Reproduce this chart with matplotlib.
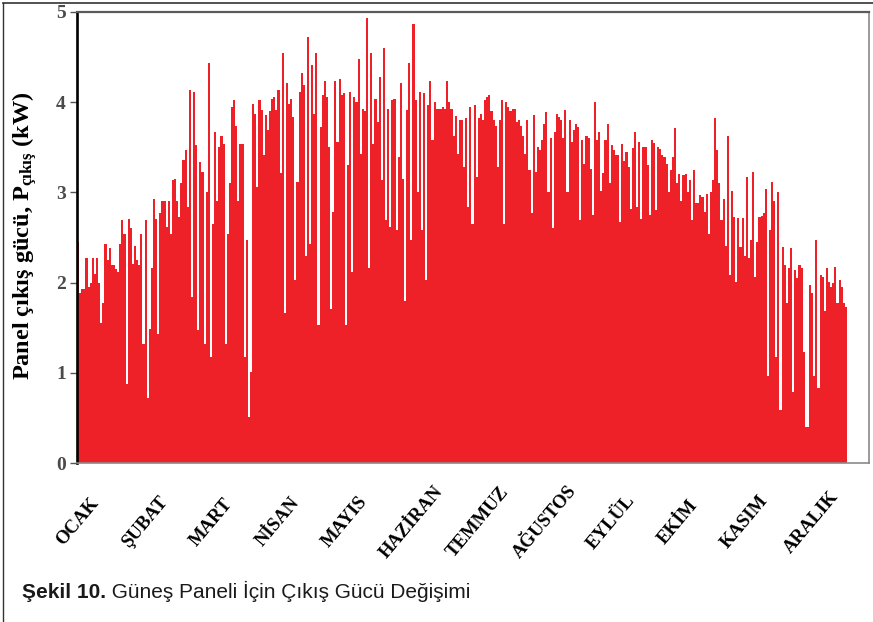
import numpy as np
import matplotlib
matplotlib.use("Agg")
import matplotlib.pyplot as plt
from matplotlib.transforms import blended_transform_factory
from matplotlib.lines import Line2D

# ---------------- data (daily peak panel output, kW) ----------------
months = ["OCAK", "ŞUBAT", "MART", "NİSAN", "MAYIS", "HAZİRAN",
          "TEMMUZ", "AĞUSTOS", "EYLÜL", "EKİM", "KASIM", "ARALIK"]

jan = [2.45, 1.88, 1.93, 1.93, 2.27, 1.95, 2.0, 2.27, 2.1, 2.27,
       2.0, 1.55, 1.77, 2.43, 2.25, 2.38, 2.2, 2.2, 2.15, 2.12,
       2.43, 2.69, 2.54, 0.88, 2.71, 2.6, 2.21, 2.41, 2.25, 2.2,
       2.54]
feb = [1.32, 2.69, 0.72, 1.49, 2.16, 2.93, 2.71, 1.43, 2.77,
       2.91, 2.9, 2.62, 2.9, 2.54, 3.14, 3.15, 2.9, 2.73, 3.1,
       3.36, 3.47, 2.84, 4.13, 1.84, 4.11, 3.52, 1.47, 3.34]
mar = [3.23, 1.32, 3.0, 4.43, 1.18, 2.65, 3.67, 2.91, 3.5, 3.63,
       3.54, 1.32, 2.54, 3.1, 3.95, 4.02, 3.74, 2.91, 3.54, 3.54,
       1.18, 2.47, 0.51, 1.01, 3.98, 3.87, 3.06, 4.02, 3.91, 3.41,
       3.86]
apr = [3.69, 3.9, 4.04, 4.06, 3.91, 4.13, 3.21, 4.54, 1.66, 4.21,
       3.98, 4.04, 3.84, 2.03, 3.12, 4.11, 4.32, 4.19, 2.3, 4.72,
       2.43, 4.41, 3.87, 4.54, 1.53, 3.73, 4.08, 4.24, 4.06, 3.5]
may = [1.71, 2.78, 4.24, 3.56, 4.26, 4.08, 4.1, 1.53, 3.3, 4.11,
       2.12, 4.06, 4.0, 4.48, 3.43, 3.93, 3.9, 4.93, 2.16, 4.54,
       3.54, 4.04, 3.78, 4.28, 3.14, 4.6, 2.69, 3.93, 2.62, 4.02,
       4.04]
jun = [2.58, 3.39, 4.21, 3.15, 1.8, 3.91, 4.43, 2.47, 4.87, 4.02,
       3.0, 4.11, 2.58, 4.1, 2.03, 3.97, 4.23, 3.58, 4.0, 3.93,
       3.92, 3.93, 3.95, 3.92, 4.23, 4.0, 3.92, 3.62, 3.85, 3.43]
jul = [3.8, 3.8, 3.28, 3.82, 2.84, 3.95, 2.65, 3.97, 3.17, 3.82,
       3.87, 3.8, 4.02, 4.06, 4.08, 3.9, 3.8, 3.74, 3.28, 3.8,
       4.02, 2.65, 4.0, 3.95, 3.9, 3.92, 3.92, 3.78, 3.8, 3.74,
       3.63]
aug = [3.43, 3.8, 3.25, 2.77, 3.86, 3.23, 3.5, 3.47, 3.58, 3.76,
       3.89, 3.0, 3.6, 2.6, 3.67, 3.87, 3.84, 3.8, 3.6, 3.91,
       3.0, 3.8, 3.56, 3.69, 3.76, 3.72, 2.69, 3.58, 3.32, 3.63,
       3.6]
sep = [3.26, 2.75, 4.0, 3.58, 3.67, 3.02, 3.21, 3.58, 3.76, 3.1,
       3.52, 3.47, 3.42, 3.41, 2.67, 3.54, 3.35, 3.45, 3.28, 2.82,
       3.49, 3.67, 2.84, 3.56, 2.71, 3.5, 3.5, 3.3, 2.75, 3.58]
oct_ = [3.55, 2.8, 3.5, 3.48, 3.42, 3.39, 3.32, 3.0, 3.25, 3.39,
        3.71, 3.1, 3.2, 2.91, 3.19, 3.2, 3.0, 3.14, 2.69, 3.25,
        2.88, 2.88, 2.97, 2.95, 2.78, 2.98, 2.54, 3.0, 3.14, 3.82,
        3.47]
nov = [3.1, 2.69, 2.93, 2.41, 3.62, 2.08, 3.02, 2.73, 2.01, 2.72,
       2.4, 2.72, 2.29, 3.17, 2.27, 2.47, 3.23, 2.06, 2.45, 2.73,
       2.74, 2.77, 3.04, 0.97, 2.58, 3.12, 2.91, 1.18, 3.0, 0.59]
dec = [2.4, 2.19, 1.77, 2.16, 2.38, 0.79, 2.14, 2.05, 2.19, 2.16,
       1.23, 0.4, 0.4, 1.97, 1.88, 0.97, 2.47, 0.83, 2.08, 2.06,
       1.68, 2.16, 2.01, 1.95, 2.0, 2.17, 1.77, 2.03, 1.95, 1.77,
       1.73]

y_ticks = [0, 1, 2, 3, 4, 5]

daily_peak = np.concatenate([jan, feb, mar, apr, may, jun,
                             jul, aug, sep, oct_, nov, dec])
days = np.arange(len(daily_peak))

# ---------------- style ----------------
RED = "#EE2028"
SERIF = ["Liberation Serif", "DejaVu Serif"]
SANS = ["Liberation Sans", "DejaVu Sans"]
plt.rcParams["mathtext.fontset"] = "custom"
plt.rcParams["mathtext.rm"] = "Liberation Serif:bold"
plt.rcParams["mathtext.bf"] = "Liberation Serif:bold"
plt.rcParams["mathtext.it"] = "Liberation Serif:bold"

W, H = 873, 622
fig = plt.figure(figsize=(W / 100, H / 100), dpi=100)
fig.patch.set_facecolor("white")
ax = fig.add_axes([77 / W, (H - 463) / H, 792 / W, 451 / H])

ax.bar(days + 0.5, daily_peak, width=1.0, color=RED, linewidth=0)

ax.set_xlim(0, 365 * 792 / 770)
ax.set_ylim(0, 5)
ax.set_xticks([])
ax.set_yticks(y_ticks)
ax.set_yticklabels([str(v) for v in y_ticks], fontfamily=SERIF,
                   fontweight="bold", fontsize=14, color="#4a4a4a")
ax.tick_params(axis="y", direction="out", length=5, width=1,
               color="#555555", pad=3)

ax.spines["left"].set_color("black")
ax.spines["left"].set_linewidth(1.9)
ax.spines["top"].set_color("#5a5a5a")
ax.spines["top"].set_linewidth(1.6)
ax.spines["right"].set_color("#8a8a8a")
ax.spines["right"].set_linewidth(1.2)
ax.spines["bottom"].set_color("#8a8a8a")
ax.spines["bottom"].set_linewidth(1.2)

# month labels
trans = blended_transform_factory(ax.transData, ax.transAxes)
for i, m in enumerate(months):
    ax.text(0.5 + 31.6 * i, -0.131, m, transform=trans, rotation=50,
            ha="center", va="center", fontfamily=SERIF, fontweight="bold",
            fontsize=13.5, color="black", clip_on=False)

# y label
fig.text(25 / W, 1 - 236 / H, "Panel çıkış gücü, P$_{\\mathrm{çıkış}}$ (kW)",
         rotation=90, ha="center", va="center", fontfamily=SERIF,
         fontweight="bold", fontsize=17.5, color="black")

# caption
cap_y = (H - 598) / H
t1 = fig.text(22 / W, cap_y, "Şekil 10.", fontfamily=SANS, fontweight="bold",
              fontsize=15, va="baseline", ha="left", color="#1a1a1a")
fig.canvas.draw()
bb = t1.get_window_extent(renderer=fig.canvas.get_renderer())
fig.text(bb.x1 / W, cap_y, " Güneş Paneli İçin Çıkış Gücü Değişimi",
         fontfamily=SANS, fontsize=15, va="baseline", ha="left",
         color="#1a1a1a")

# outer frame lines (top and left)
fig.add_artist(Line2D([3.5 / W, 1], [1 - 2.5 / H, 1 - 2.5 / H],
                      transform=fig.transFigure, color="#333333", lw=1.2))
fig.add_artist(Line2D([3.5 / W, 3.5 / W], [0, 1 - 2.5 / H],
                      transform=fig.transFigure, color="#333333", lw=1.0))

fig.savefig("out.png", dpi=100)
